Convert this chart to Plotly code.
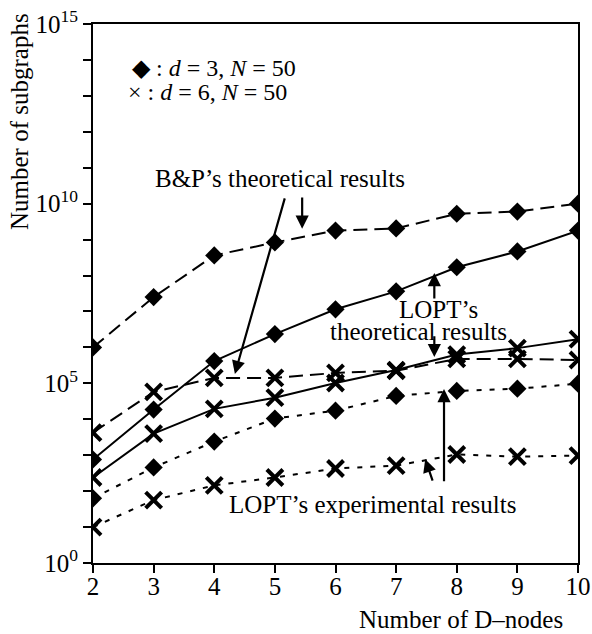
import plotly.graph_objects as go

x_nodes = [2, 3, 4, 5, 6, 7, 8, 9, 10]

# log10 values
bp_d3 = [6.0, 7.4, 8.56, 8.92, 9.25, 9.31, 9.72, 9.78, 10.0]
lopt_th_d3 = [2.88, 4.27, 5.62, 6.37, 7.06, 7.56, 8.23, 8.67, 9.25]
lopt_ex_d3 = [1.8, 2.66, 3.38, 4.02, 4.24, 4.65, 4.79, 4.85, 4.99]
bp_d6 = [3.63, 4.76, 5.15, 5.15, 5.29, 5.35, 5.68, 5.68, 5.65]
lopt_th_d6 = [2.38, 3.6, 4.29, 4.6, 5.01, 5.37, 5.8, 5.98, 6.23]
lopt_ex_d6 = [1.0, 1.75, 2.16, 2.38, 2.63, 2.71, 3.02, 2.96, 2.99]

y_tickvals = [0, 5, 10, 15]
y_ticktext = ["10<sup>0</sup>", "10<sup>5</sup>", "10<sup>10</sup>", "10<sup>15</sup>"]

FONT = "Liberation Serif"

def v(a):
    return [10 ** t for t in a]

fig = go.Figure()

series = [
    (bp_d3, "14px,7px", "diamond"),
    (lopt_th_d3, "solid", "diamond"),
    (lopt_ex_d3, "5px,8px", "diamond"),
    (bp_d6, "14px,7px", "x-thin"),
    (lopt_th_d6, "solid", "x-thin"),
    (lopt_ex_d6, "5px,8px", "x-thin"),
]
for vals, dash, sym in series:
    if sym == "diamond":
        marker = dict(symbol="diamond", size=14, color="black")
    else:
        marker = dict(symbol="x-thin", size=16, color="black",
                      line=dict(color="black", width=4))
    fig.add_trace(go.Scatter(
        x=x_nodes, y=v(vals), mode="lines+markers",
        line=dict(color="black", width=2, dash=dash),
        marker=marker, showlegend=False, cliponaxis=True))

anns = []
# arrows (data coords; y in log10 units)
arrows = [
    (4.34, 5.26, 5.17, 10.19),
    (5.45, 9.3, 5.45, 10.21),
    (7.63, 8.07, 7.63, 7.32),
    (7.63, 5.73, 7.63, 6.35),
    (7.79, 4.84, 7.79, 2.23),
    (7.48, 2.89, 7.61, 2.25),
]
for xh, yh, xt, yt in arrows:
    anns.append(dict(x=xh, y=yh, ax=xt, ay=yt, xref="x", yref="y",
                     axref="x", ayref="y", text="", showarrow=True,
                     arrowhead=2, arrowsize=1.2, arrowwidth=2.2,
                     arrowcolor="black"))

# plot-area frame in page pixels
L, R, T, B = 93, 578, 24, 563
W, H = 592, 634

def px(xp, yp):
    return (xp - L) / (R - L), (B - yp) / (B - T)

def txt(s, xp, yp, size=25, xanchor="center", angle=0):
    x, y = px(xp, yp)
    anns.append(dict(text=s, x=x, y=y, xref="paper", yref="paper",
                     showarrow=False, xanchor=xanchor, yanchor="middle",
                     textangle=angle,
                     font=dict(family=FONT, size=size, color="black")))

txt("B&P’s theoretical results", 280, 178)
txt("LOPT’s", 438, 309)
txt("theoretical results", 418, 331)
txt("LOPT’s experimental results", 372, 504)
txt("◆ : <i>d</i> = 3, <i>N</i> = 50", 130, 68, size=24, xanchor="left")
txt("× : <i>d</i> = 6, <i>N</i> = 50", 126, 92, size=24, xanchor="left")
txt("Number of D–nodes", 461, 619)
txt("Number of subgraphs", 20, 122, angle=-90)

fig.update_layout(
    width=W, height=H,
    margin=dict(l=L, r=W - R, t=T, b=H - B),
    paper_bgcolor="white", plot_bgcolor="white",
    font=dict(family=FONT, size=24, color="black"),
    annotations=anns,
)
fig.update_xaxes(range=[2, 10], tickvals=x_nodes, ticks="",
                 showline=True, linewidth=2,
                 linecolor="black", mirror=True, showgrid=False, zeroline=False,
                 automargin=False, tickfont=dict(family=FONT, size=25),
                 minor=dict(tickvals=x_nodes, ticks="outside", ticklen=8,
                            tickwidth=2, tickcolor="black", showgrid=False))
fig.update_yaxes(type="log", range=[0, 15], tickvals=[10 ** t for t in y_tickvals],
                 ticktext=y_ticktext, ticks="outside", ticklen=8, tickwidth=2,
                 tickcolor="black", showline=True, linewidth=2, linecolor="black",
                 mirror=True, showgrid=False, zeroline=False, automargin=False,
                 minor=dict(tickvals=[10 ** t for t in range(0, 16)], ticks="outside",
                            ticklen=8, tickwidth=1.5, tickcolor="black", showgrid=False),
                 tickfont=dict(family=FONT, size=25))

fig.write_html("out.html", config={"displayModeBar": False},
               post_script="document.body.style.margin='0px';document.body.style.overflow='hidden';")
